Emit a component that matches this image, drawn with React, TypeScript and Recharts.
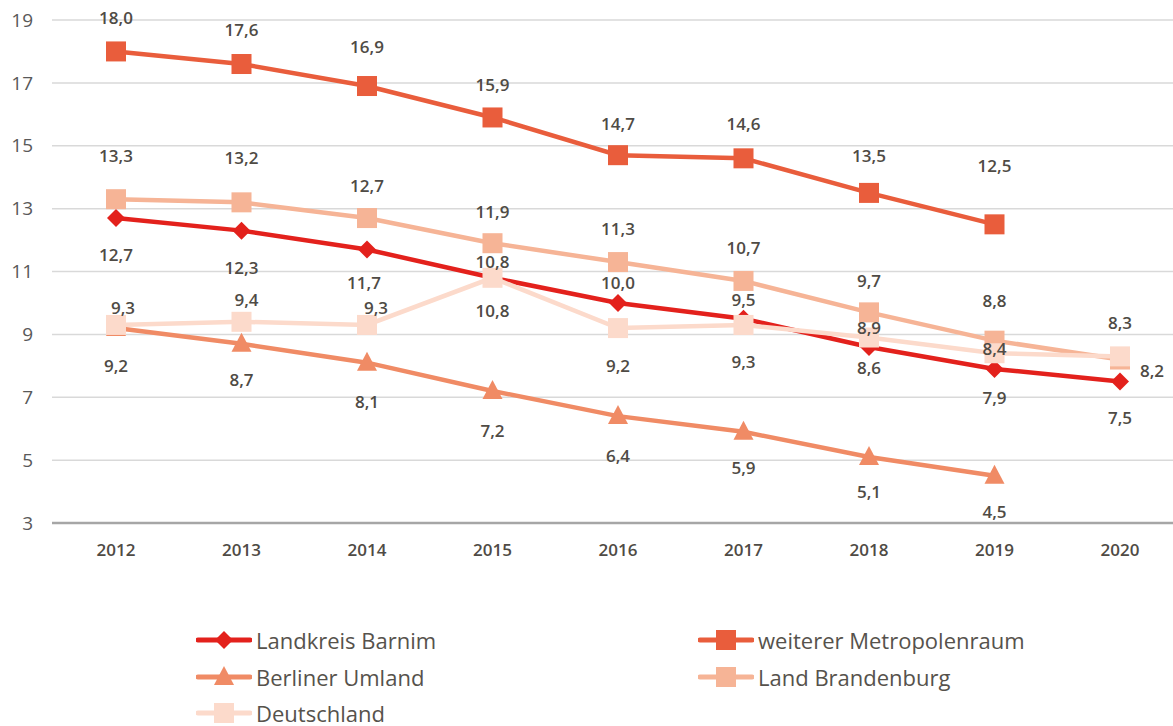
import { LineChart, Line, XAxis, YAxis, CartesianGrid } from "recharts";

// Arbeitslosenquote / Werte je Jahr
const years = ["2012", "2013", "2014", "2015", "2016", "2017", "2018", "2019", "2020"];
const barnim = [12.7, 12.3, 11.7, 10.8, 10.0, 9.5, 8.6, 7.9, 7.5];
const metropolenraum = [18.0, 17.6, 16.9, 15.9, 14.7, 14.6, 13.5, 12.5, null];
const umland = [9.2, 8.7, 8.1, 7.2, 6.4, 5.9, 5.1, 4.5, null];
const brandenburg = [13.3, 13.2, 12.7, 11.9, 11.3, 10.7, 9.7, 8.8, 8.2];
const deutschland = [9.3, 9.4, 9.3, 10.8, 9.2, 9.3, 8.9, 8.4, 8.3];
const yTicks = [3, 5, 7, 9, 11, 13, 15, 17, 19];

const data = years.map((year, i) => ({
  year,
  barnim: barnim[i],
  metropolenraum: metropolenraum[i],
  umland: umland[i],
  brandenburg: brandenburg[i],
  deutschland: deutschland[i],
}));

type Shape = "diamond" | "square" | "triangle";

// label nudges (Excel placed them around overlapping points)
const series: {
  key: string;
  name: string;
  color: string;
  shape: Shape;
  dy: number[];
  dx?: number[];
}[] = [
  { key: "barnim", name: "Landkreis Barnim", color: "#e3211c", shape: "diamond", dy: [36, 37, 33, 33, -20, -19, 21, 29, 36], dx: [0, 0, -3, 0, 0, 0, 0, 0, 0] },
  { key: "metropolenraum", name: "weiterer Metropolenraum", color: "#e95d3c", shape: "square", dy: [-34, -35, -40, -33, -32, -35, -37, -59, 0] },
  { key: "umland", name: "Berliner Umland", color: "#f08b65", shape: "triangle", dy: [37, 36, 39, 40, 39, 36, 35, 36, 0] },
  { key: "brandenburg", name: "Land Brandenburg", color: "#f6b496", shape: "square", dy: [-44, -45, -33, -32, -34, -33, -32, -40, 11], dx: [0, 0, 0, 0, 0, 0, 0, 0, 32] },
  { key: "deutschland", name: "Deutschland", color: "#fcdacb", shape: "square", dy: [-17, -22, -17, -16, 37, 37, -10, -5, -34], dx: [7, 5, 9, 0, 0, 0, 0, 0, 0] },
];

const FONT = "'Open Sans', 'DejaVu Sans', sans-serif";
const TEXT = "#4f4b45";

function Marker({ cx, cy, shape, color }: { cx: number; cy: number; shape: Shape; color: string }) {
  if (cx == null || cy == null || isNaN(cx) || isNaN(cy)) return null;
  if (shape === "diamond") {
    const r = 9;
    return <path d={`M${cx},${cy - r}L${cx + r},${cy}L${cx},${cy + r}L${cx - r},${cy}Z`} fill={color} />;
  }
  if (shape === "triangle") {
    return <path d={`M${cx},${cy - 11}L${cx + 10},${cy + 8}L${cx - 10},${cy + 8}Z`} fill={color} />;
  }
  return <rect x={cx - 10} y={cy - 10} width={20} height={20} fill={color} />;
}

const makeDot = (shape: Shape, color: string) => (props: any) => (
  <Marker key={`${props.dataKey}-${props.index}`} cx={props.cx} cy={props.cy} shape={shape} color={color} />
);

const makeLabel = (s: (typeof series)[number]) => (props: any) => {
  const { x, y, value, index } = props;
  if (value == null || x == null || y == null) return null;
  return (
    <text
      key={`${s.key}-l-${index}`}
      x={x + (s.dx ? s.dx[index] : 0)}
      y={y + s.dy[index]}
      textAnchor="middle"
      dominantBaseline="central"
      fill={TEXT}
      fontFamily={FONT}
      fontSize={17}
      fontWeight={600}
    >
      {Number(value).toFixed(1).replace(".", ",")}
    </text>
  );
};

function LegendIcon({ shape, color }: { shape: Shape; color: string }) {
  return (
    <svg width={56} height={24} style={{ display: "block" }}>
      <line x1={2} y1={12} x2={54} y2={12} stroke={color} strokeWidth={5} strokeLinecap="round" />
      <Marker cx={28} cy={12} shape={shape} color={color} />
    </svg>
  );
}

export default function App() {
  return (
    <div style={{ position: "absolute", left: 0, top: 0, width: 1173, height: 726, background: "#fff" }}>
      <LineChart width={1173} height={590} data={data} margin={{ top: 20, right: 0, bottom: 0, left: 0 }}>
        <CartesianGrid vertical={false} stroke="#d9d9d9" strokeWidth={1.5} />
        <XAxis
          dataKey="year"
          height={67}
          padding={{ left: 64, right: 53 }}
          axisLine={{ stroke: "#a6a6a6", strokeWidth: 2.5 }}
          tickLine={false}
          tickMargin={15}
          tick={{ fill: TEXT, fontSize: 17, fontWeight: 600, fontFamily: FONT }}
        />
        <YAxis
          width={52}
          domain={[3, 19]}
          ticks={yTicks}
          axisLine={false}
          tickLine={false}
          tickMargin={13}
          tick={{ fill: "#595959", fontSize: 19, fontFamily: FONT }}
        />
        {series.map((s) => (
          <Line
            key={s.key}
            dataKey={s.key}
            name={s.name}
            stroke={s.color}
            strokeWidth={4.5}
            dot={makeDot(s.shape, s.color)}
            activeDot={false}
            label={makeLabel(s)}
            isAnimationActive={false}
          />
        ))}
      </LineChart>
      {series.map((s, i) => (
        <div
          key={s.key}
          style={{
            position: "absolute",
            left: i % 2 === 0 ? 196 : 698,
            top: 628 + Math.floor(i / 2) * 36.5,
            display: "flex",
            alignItems: "center",
            gap: 4,
            fontFamily: FONT,
            fontSize: 22,
            color: "#56524c",
            lineHeight: "24px",
          }}
        >
          <LegendIcon shape={s.shape} color={s.color} />
          <span>{s.name}</span>
        </div>
      ))}
    </div>
  );
}
